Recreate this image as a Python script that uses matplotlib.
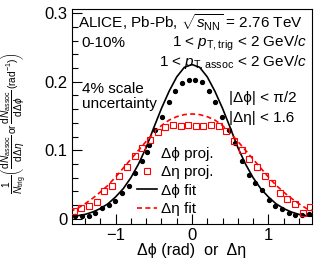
import matplotlib
matplotlib.use("Agg")
from matplotlib import pyplot as plt

plt.rcParams['font.family'] = ['Liberation Sans', 'DejaVu Sans']
plt.rcParams['mathtext.fontset'] = 'custom'
plt.rcParams['mathtext.rm'] = 'Liberation Sans'
plt.rcParams['mathtext.it'] = 'Liberation Sans:italic'
plt.rcParams['mathtext.sf'] = 'Liberation Sans'

# delta-phi projection (black dots)
dphi_x = [-1.527, -1.440, -1.353, -1.265, -1.178, -1.091, -1.004, -0.916, -0.829, -0.742,
          -0.654, -0.567, -0.480, -0.393, -0.305, -0.218, -0.131, -0.044,
          0.044, 0.131, 0.218, 0.305, 0.393, 0.480, 0.567, 0.654,
          0.742, 0.829, 0.916, 1.004, 1.091, 1.178, 1.265, 1.353, 1.440, 1.527]
dphi_y = [0.0044, 0.0044, 0.0044, 0.009, 0.0156, 0.020, 0.026, 0.037, 0.048, 0.067,
          0.085, 0.108, 0.130, 0.148, 0.171, 0.186, 0.198, 0.203,
          0.203, 0.200, 0.186, 0.171, 0.148, 0.130, 0.110, 0.085,
          0.064, 0.052, 0.042, 0.028, 0.019, 0.014, 0.009, 0.006, 0.006, 0.007]

# delta-eta projection (red squares)
deta_x = [-1.55, -1.45, -1.35, -1.25, -1.15, -1.05, -0.95, -0.85, -0.75, -0.65,
          -0.55, -0.45, -0.35, -0.25, -0.15, -0.05, 0.05, 0.15, 0.25, 0.35, 0.45, 0.55,
          0.65, 0.75, 0.85, 0.95, 1.05, 1.15, 1.25, 1.35, 1.45, 1.55]
deta_y = [0.0117, 0.0155, 0.019, 0.025, 0.041, 0.048, 0.063, 0.076, 0.091, 0.103,
          0.115, 0.127, 0.134, 0.137, 0.136, 0.137, 0.136, 0.136, 0.137, 0.136, 0.128, 0.114,
          0.101, 0.087, 0.075, 0.062, 0.052, 0.038, 0.029, 0.022, 0.009, 0.017]

# fit curves
fit_x = [-1.6, -1.5, -1.4, -1.3, -1.2, -1.1, -1.0, -0.9, -0.8, -0.7, -0.6, -0.5, -0.4, -0.3, -0.2, -0.1,
         0.0, 0.1, 0.2, 0.3, 0.4, 0.5, 0.6, 0.7, 0.8, 0.9, 1.0, 1.1, 1.2, 1.3, 1.4, 1.5, 1.6]
dphi_fit = [0.0035, 0.0045, 0.0065, 0.010, 0.015, 0.022, 0.032, 0.044, 0.060, 0.080, 0.104, 0.133,
            0.161, 0.186, 0.207, 0.221, 0.225, 0.221, 0.207, 0.186, 0.161, 0.133, 0.104, 0.080,
            0.060, 0.044, 0.032, 0.022, 0.015, 0.010, 0.0065, 0.0045, 0.0035]
deta_fit = [0.011, 0.015, 0.022, 0.030, 0.039, 0.049, 0.061, 0.074, 0.087, 0.100, 0.113, 0.125,
            0.136, 0.144, 0.149, 0.152, 0.153, 0.152, 0.149, 0.144, 0.136, 0.125, 0.113, 0.100,
            0.087, 0.074, 0.061, 0.049, 0.039, 0.030, 0.022, 0.015, 0.011]

fig = plt.figure(figsize=(3.18, 2.62), dpi=100)
ax = fig.add_axes([72/318, 1-224/262, 240/318, 215/262])

ax.plot(fit_x, dphi_fit, '-', color='black', lw=1.2, label='Δϕ fit', zorder=2)
ax.plot(fit_x, deta_fit, '--', color='red', lw=1.2, dashes=(3, 2), label='Δη fit', zorder=2)
ax.plot(dphi_x, dphi_y, 'o', color='black', markersize=2.8, label='Δϕ proj.', zorder=3)
ax.plot(deta_x, deta_y, 's', mfc='none', mec='red', markersize=4.2, mew=0.8,
        label='Δη proj.', zorder=3)

ax.set_xlim(-1.5708, 1.5708)
ax.set_ylim(-0.0075, 0.306)
ax.set_xticks([-1, 0, 1])
ax.set_xticklabels(['\u22121', '0', '1'])
ax.set_yticks([0, 0.1, 0.2, 0.3])
ax.set_yticklabels(['0', '0.1', '0.2', '0.3'])
ax.set_xticks([i * 0.2 - 1.4 for i in range(15)], minor=True)
ax.set_yticks([i * 0.02 for i in range(16)], minor=True)
ax.tick_params(which='both', direction='in', labelsize=12, top=False, right=False)
ax.tick_params(which='major', length=7, width=0.8, pad=3)
ax.tick_params(which='minor', length=4, width=0.8)

ax.set_xlabel('Δϕ (rad)  or  Δη', fontsize=11.5, labelpad=0)
ax.set_ylabel(r'$\dfrac{1}{N_{\rm trig}}\left(\dfrac{{\rm d}N_{\rm assoc}}{{\rm d}\Delta\eta}\,{\rm or}\,'
              r'\dfrac{{\rm d}N_{\rm assoc}}{{\rm d}\Delta\phi}\,({\rm rad}^{-1})\right)$', fontsize=7.3)
ax.yaxis.set_label_coords(-0.18, 0.47)

ax.text(0.025, 0.985, r'ALICE, Pb-Pb, $\sqrt{s_{\rm NN}}$ = 2.76 TeV', transform=ax.transAxes,
        fontsize=11, ha='left', va='top')
ax.text(0.04, 0.84, '0-10%', transform=ax.transAxes, fontsize=11, ha='left', va='center')
ax.text(0.98, 0.84, r'1 < $p_{\rm T,trig}$ < 2 GeV/$c$', transform=ax.transAxes,
        fontsize=11, ha='right', va='center')
ax.text(0.98, 0.75, r'1 < $p_{\rm T,assoc}$ < 2 GeV/$c$', transform=ax.transAxes,
        fontsize=11, ha='right', va='center')
ax.text(0.04, 0.63, '4% scale', transform=ax.transAxes, fontsize=11, ha='left', va='center')
ax.text(0.04, 0.56, 'uncertainty', transform=ax.transAxes, fontsize=11, ha='left', va='center')
ax.text(0.655, 0.585, '|Δϕ| < π/2', transform=ax.transAxes,
        fontsize=11, ha='left', va='center')
ax.text(0.655, 0.495, '|Δη| < 1.6', transform=ax.transAxes,
        fontsize=11, ha='left', va='center')

handles, labels = ax.get_legend_handles_labels()
order = [2, 3, 0, 1]
ax.legend([handles[i] for i in order], [labels[i] for i in order], loc='upper left',
          bbox_to_anchor=(0.27, 0.36), frameon=False, fontsize=11, handlelength=1.3,
          handletextpad=0.3, labelspacing=0.3, borderpad=0, borderaxespad=0)

fig.savefig('out.png', dpi=100)
